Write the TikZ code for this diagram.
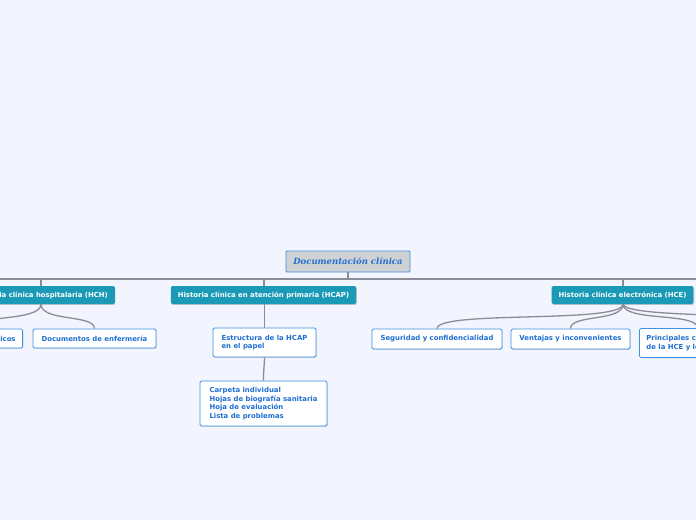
\documentclass[tikz,border=0pt]{standalone}
\usepackage{fontspec}
\newfontfamily\vf{DejaVu Sans}
\newfontfamily\tf{DejaVu Serif}
\usetikzlibrary{shadows}
\definecolor{bg}{HTML}{F2F5FD}
\definecolor{teal}{HTML}{1A9AB6}
\definecolor{bord}{HTML}{3D8FE8}
\definecolor{txt}{HTML}{1F6FD3}
\definecolor{lin}{HTML}{8C8C96}
\definecolor{rootfill}{HTML}{D0D1D3}
\tikzset{
  rootbox/.style={draw=bord, line width=0.9pt, fill=rootfill, rounded corners=1pt,
    minimum width=124pt, minimum height=21pt, inner sep=0pt,
    font=\tf\bfseries\itshape\fontsize{8.5}{10}\selectfont, text=txt},
  mainbox/.style={fill=teal, rounded corners=1.5pt, minimum height=18pt, inner xsep=7pt, inner ysep=0pt,
    font=\vf\bfseries\fontsize{6.9}{8}\selectfont, text=white,
    drop shadow={shadow xshift=0.6pt, shadow yshift=-0.8pt, opacity=0.35, fill=black!60}},
  subbox/.style={draw=bord, line width=0.8pt, fill=white, rounded corners=1.5pt, inner xsep=7pt, inner ysep=0pt,
    font=\vf\bfseries\fontsize{6.9}{8.7}\selectfont, text=txt, align=left,
    drop shadow={shadow xshift=0.6pt, shadow yshift=-0.8pt, opacity=0.3, fill=black!50}},
  conn/.style={draw=lin, line width=1.3pt},
  mainline/.style={draw=lin, line width=2pt},
}
\begin{document}
\begin{tikzpicture}[x=1pt,y=-1pt]
\fill[bg] (0,0) rectangle (696,520);
\useasboundingbox (0,0) rectangle (696,520);
\clip (0,0) rectangle (696,520);

% root
\node[rootbox] (root) at (348,261.5) {Documentación clínica};
\coordinate (hl) at (-10,279);
\coordinate (hr) at (706,279);
\coordinate (hm) at (348,279);
\draw[mainline] (hl) -- (hr);
\draw[mainline] (root.south) -- (hm);

% level 1
\node[mainbox, anchor=east] (hch) at (115,295) {Historia clínica hospitalaria (HCH)};
\node[mainbox] (hcap) at (263.5,295) {Historia clínica en atención primaria (HCAP)};
\node[mainbox] (hce) at (622.5,295) {Historia clínica electrónica (HCE)};
\coordinate (b1) at (41,279);
\coordinate (b2) at (264,279);
\coordinate (b3) at (623,279);
\draw[conn] (b1) -- (hch.north -| b1);
\draw[conn] (b2) -- (hcap.north -| b2);
\draw[conn] (b3) -- (hce.north -| b3);

% level 2 under HCH
\node[subbox, minimum height=19pt, anchor=east] (med) at (23,338.5) {Documentos médicos};
\node[subbox, minimum height=19pt, minimum width=123pt] (enf) at (94.5,338.5) {Documentos de enfermería};
\coordinate (hchb) at (41,304);
\draw[conn] (hchb) .. controls (41,322) and (med.north |- 0,314) .. (med.north);
\draw[conn] (hchb) .. controls (41,322) and (94.5,314) .. (enf.north);

% under HCAP
\node[subbox, minimum height=29pt, minimum width=103pt] (est) at (264.5,342.5) {Estructura de la HCAP\\en el papel};
\node[subbox, minimum height=45pt, minimum width=127pt] (carp) at (263.5,403.5) {Carpeta individual\\Hojas de biografía sanitaria\\Hoja de evaluación\\Lista de problemas};
\draw[conn] (hcap.south -| est.north) -- (est.north);
\draw[conn] (est.south) .. controls (264,372) and (263.5,368) .. (carp.north);

% under HCE
\node[subbox, minimum height=20pt, minimum width=130pt] (seg) at (437,339) {Seguridad y confidencialidad};
\node[subbox, minimum height=20pt, minimum width=119pt] (ven) at (570.5,339) {Ventajas y inconvenientes};
\node[subbox, minimum height=29pt, anchor=west] (pri) at (639,343) {Principales características\\de la HCE y los sistemas};
\coordinate (hceb) at (623,304);
\coordinate (far) at (880,329);
\draw[conn] (hceb) .. controls (623,324) and (437,310) .. (seg.north);
\draw[conn] (hceb) .. controls (623,322) and (570.5,314) .. (ven.north);
\draw[conn] (hceb) .. controls (623,322) and (pri.north |- 0,312) .. (pri.north);
\draw[conn] (hceb) .. controls (623,322) and (880,310) .. (far);
\end{tikzpicture}
\end{document}
